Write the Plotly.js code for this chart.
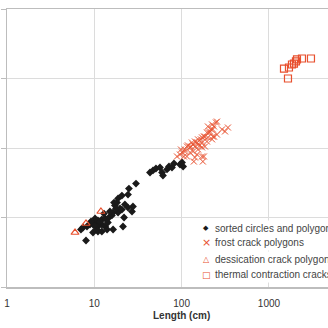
<!DOCTYPE html>
<html>
<head>
<meta charset="utf-8">
<script src="https://cdn.plot.ly/plotly-3.0.1.min.js"></script>
<style>html,body{margin:0;padding:0;background:#fff;}#chart{width:328px;height:328px;}</style>
</head>
<body>
<div id="chart"></div>
<script>
// Sorted circles and polygons
var sortedX = [8.03,7.03,7.42,8.24,8.92,9.66,10.45,11.0,12.2,13.3,14.7,15.9,16.4,18.7,20.7,24.3,22.4,17.2,16.8,18.2,18.7,20.7,24.3,24.9,30.0,11.0,12.2,13.3,14.3,11.0,9.66,10.7,12.2,16.4,21.3,21.9,27.0,27.7,11.6,19.7,15.1,14.0,9.91,10.2,9.16,12.9,17.7,43.4,47.0,50.8,56.5,59.6,61.1,68.0,71.6,77.5,81.7,95.7,104,101];
var sortedY = [0.467,0.672,0.718,0.742,0.793,0.820,0.847,0.906,0.936,0.968,1.0,1.07,1.18,1.18,1.30,1.39,1.54,1.49,1.64,1.64,1.88,2.07,2.14,2.61,3.08,0.742,0.793,0.742,0.847,0.629,0.608,0.672,0.629,0.672,0.742,1.0,1.22,1.44,0.876,1.35,1.22,0.672,0.767,0.968,0.876,1.14,1.35,4.44,4.75,5.07,5.24,4.44,4.02,4.91,5.42,5.24,5.98,5.79,5.42,6.19];
// Frost crack polygons
var frostX = [254,223,200,228,290,339,314,211,195,185,171,154,142,131,118,115,125,142,154,171,195,200,223,228,254,154,171,185,135,109,101,95.7,88.5,150,171,142,175,115,125,138,247,206,235,180,166,217,128,106,180,235,135,150,162,109,98.2];
var frostY = [24.0,21.8,20.4,18.5,18.5,19.7,17.3,17.3,16.7,14.6,14.2,13.3,12.4,12.0,10.9,10.5,10.2,10.5,11.2,12.0,12.4,14.2,13.3,14.6,15.6,9.51,10.2,10.5,8.91,8.91,8.62,8.06,7.55,8.06,7.55,7.30,6.39,7.55,8.62,6.39,23.3,16.7,20.4,14.6,13.3,18.5,10.5,7.55,7.55,14.6,11.2,12.0,10.9,9.51,9.51];
// Dessication crack polygons
var dessX = [6.01,8.03,11.9];
var dessY = [0.608,0.820,1.22];
// Thermal contraction cracks
var thermX = [1486,1694,1834,1933,2038,2093,2388,3027,1651];
var thermY = [139,144,159,164,176,188,194,194,100];

var seriesNames = ['sorted circles and polygons','frost crack polygons','dessication crack polygons','thermal contraction cracks'];
var xTicks = [1,10,100,1000];
var xTickText = ['1','10','100','1000'];
var yGrid = [0.1,1,10,100,1000];

var red = '#e8502e';
var dark = '#1a1a1a';
var traces = [
  {x: sortedX, y: sortedY, mode:'markers', type:'scatter', name:seriesNames[0],
   marker:{symbol:'diamond', size:6, color:dark}},
  {x: frostX, y: frostY, mode:'markers', type:'scatter', name:seriesNames[1],
   marker:{symbol:'x-thin', size:6, line:{color:red, width:1}, color:red}},
  {x: dessX, y: dessY, mode:'markers', type:'scatter', name:seriesNames[2],
   marker:{symbol:'triangle-up-open', size:7, color:red, line:{width:1.2}}},
  {x: thermX, y: thermY, mode:'markers', type:'scatter', name:seriesNames[3],
   marker:{symbol:'square-open', size:7, color:red, line:{width:1.2}}}
];

// compact legend built from annotations (tighter row spacing than Plotly's legend)
var legSym = ['\u25C6','\u00D7','\u25B3','\u25A1'];
var legSymSize = [7, 11, 8, 9];
var legSymColor = [dark, red, red, red];
var legRowY = [0.2122, 0.1583, 0.1007, 0.0432];
var annotations = [{text:'<b>Length (cm)</b>', xref:'paper', yref:'paper', x:0.545, y:-0.104,
                xanchor:'center', yanchor:'middle', showarrow:false,
                font:{size:10, color:'#333'}}];
for (var i = 0; i < seriesNames.length; i++) {
  annotations.push({text:seriesNames[i], xref:'paper', yref:'paper', x:0.640, y:legRowY[i],
    xanchor:'left', yanchor:'middle', showarrow:false, bgcolor:'#fff', borderpad:2,
    font:{size:10, color:'#444'}});
  annotations.push({text:legSym[i], xref:'paper', yref:'paper', x:0.62, y:legRowY[i],
    xanchor:'center', yanchor:'middle', showarrow:false, bgcolor:'#fff', borderpad:2,
    font:{size:legSymSize[i], color:legSymColor[i], family:'DejaVu Sans'}});
}

var layout = {
  width:328, height:328,
  margin:{l:7, r:0, t:9, b:41, autoexpand:false},
  paper_bgcolor:'#fff', plot_bgcolor:'#fff',
  font:{family:'Liberation Sans, Arial, sans-serif', size:10, color:'#333'},
  showlegend:false,
  xaxis:{type:'log', range:[0, 3.676], tickvals:xTicks, ticktext:xTickText,
         showgrid:true, gridcolor:'#dcdcdc', gridwidth:1,
         showline:true, linecolor:'#bdbdbd', linewidth:1.5, mirror:true,
         ticks:'', ticklabelstandoff:6, zeroline:false, automargin:false,
         tickfont:{size:10, color:'#333'}},
  yaxis:{type:'log', range:[-1, 3], tickvals:yGrid, showticklabels:false,
         showgrid:true, gridcolor:'#dcdcdc', gridwidth:1,
         showline:true, linecolor:'#bdbdbd', linewidth:1.5, automargin:false,
         ticks:'outside', ticklen:5, tickcolor:'#bdbdbd', zeroline:false},
  annotations: annotations
};

Plotly.newPlot('chart', traces, layout, {displayModeBar:false, staticPlot:true});
</script>
</body>
</html>
